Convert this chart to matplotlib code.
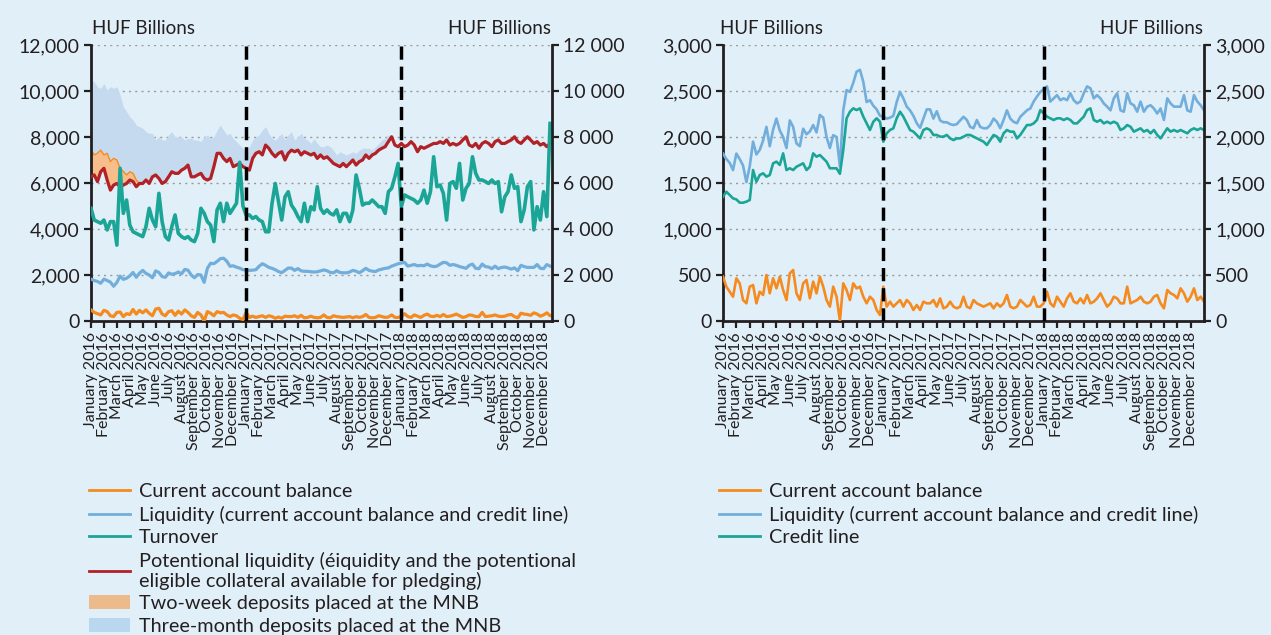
import numpy as np
import matplotlib
matplotlib.use('Agg')
import matplotlib.pyplot as plt
from matplotlib.lines import Line2D
from matplotlib.patches import Patch
from matplotlib.ticker import FuncFormatter, MultipleLocator

plt.rcParams['font.family'] = ['Lato', 'DejaVu Sans']

# month tick labels (one per month, Jan 2016 - Dec 2018)
month_names = ['January', 'February', 'March', 'April', 'May', 'June', 'July',
               'August', 'September', 'October', 'November', 'December']
years = [2016, 2017, 2018]

# series, ~4 readings per month (HUF billions)
current_account = [
    482, 373, 319, 264, 464, 409, 228, 192, 373, 391, 192, 319, 283, 500, 301, 464,
    355, 482, 337, 228, 518, 554, 301, 228, 409, 446, 246, 428, 301, 482, 373, 228,
    156, 373, 264, 0, 409, 337, 228, 409, 355, 373, 264, 192, 264, 228, 120, 65,
    373, 156, 210, 156, 192, 228, 156, 228, 192, 120, 174, 120, 210, 192, 192, 228,
    156, 246, 138, 156, 210, 156, 138, 156,
    264, 156, 138, 228, 192, 174, 156, 174, 192, 138, 192, 156, 192, 283, 156, 138,
    156, 228, 192, 156, 174, 264, 156, 156, 192, 319, 192, 156, 264, 210, 156, 246,
    301, 210, 192, 246, 192, 283, 192, 210, 246, 301, 228, 156, 192, 264, 246, 192,
    192, 373, 192, 210, 228, 264, 210, 192, 210, 264, 283, 192, 138, 337, 301, 283,
    246, 355, 301, 210, 264, 355, 228, 264, 210]

liquidity = [
    1820, 1760, 1720, 1640, 1820, 1760, 1690, 1510, 1680, 1950, 1810, 1860, 1960, 2110,
    1900, 2080, 2200, 2070, 2000, 1880, 2180, 2110, 1930, 1900, 2090, 2030, 2060, 2130,
    2050, 2240, 2210, 2000, 1880, 2020, 2000, 1680, 2290, 2510, 2490, 2590, 2710, 2730,
    2600, 2380, 2400, 2340, 2300, 2230,
    2220, 2200, 2210, 2230, 2380, 2490, 2420, 2330, 2290, 2230, 2150, 2100, 2200, 2300,
    2300, 2200, 2280, 2180, 2160, 2160, 2140, 2130, 2140, 2180,
    2220, 2185, 2110, 2095, 2185, 2110, 2095, 2095, 2130, 2200, 2165, 2095, 2185, 2290,
    2200, 2165, 2150, 2220, 2255, 2290, 2310, 2385, 2440, 2490,
    2520, 2550, 2385, 2420, 2455, 2400, 2420, 2400, 2475, 2400, 2365, 2385, 2475, 2550,
    2530, 2420, 2455, 2420, 2365, 2330, 2290, 2420, 2475, 2290, 2275, 2475, 2365, 2345,
    2275, 2385, 2275, 2330, 2345, 2310, 2255, 2310, 2185, 2420, 2365, 2330, 2330, 2330,
    2455, 2290, 2275, 2455, 2385, 2345, 2290]

credit_line = [
    1350, 1405, 1370, 1333, 1322, 1286, 1286, 1297, 1315, 1641, 1514, 1587, 1605, 1569,
    1587, 1714, 1732, 1696, 1822, 1641, 1660, 1641, 1677, 1696, 1714, 1641, 1677, 1822,
    1786, 1804, 1768, 1732, 1660, 1660, 1660, 1600, 1859, 2203, 2275, 2311, 2293, 2311,
    2221, 2148, 2076, 2166, 2203, 2166,
    1949, 2040, 2076, 2094, 2203, 2275, 2221, 2148, 2076, 2058, 2022, 1985, 2076, 2094,
    2076, 2022, 2022, 2004, 2004, 2022, 1985, 1967, 1985, 1985,
    2004, 2022, 2022, 2004, 1985, 1967, 1949, 1913, 1967, 2022, 2004, 1949, 2040, 2076,
    2058, 2058, 1985, 2022, 2076, 2130, 2130, 2148, 2185, 2293,
    2257, 2221, 2203, 2185, 2203, 2203, 2185, 2203, 2185, 2148, 2148, 2185, 2221, 2293,
    2311, 2185, 2166, 2185, 2148, 2166, 2148, 2166, 2148, 2076, 2094, 2130, 2112, 2058,
    2076, 2094, 2058, 2076, 2040, 2076, 2022, 1985, 2040, 2094, 2058, 2076, 2058, 2076,
    2058, 2040, 2076, 2094, 2076, 2094, 2076]

turnover = [
    4900, 4390, 4320, 4250, 4390, 3960, 4320, 4320, 3300, 6640, 4680, 5260, 4170, 3880,
    3810, 3740, 3670, 4100, 4900, 4390, 4100, 5550, 4320, 3670, 3520, 4100, 4610, 3810,
    3670, 3590, 3670, 3520, 3450, 3810, 4900, 4680, 4320, 4170, 3450, 4830, 5120, 4320,
    5120, 4680, 4900, 5120, 6900, 5000,
    4600, 4610, 4460, 4540, 4390, 4320, 3880, 3880, 5120, 5980, 5190, 4390, 5400, 5620,
    5040, 4830, 4540, 4320, 5120, 4320, 4970, 4830, 5840, 4900,
    4680, 4830, 4680, 4610, 4830, 4320, 4680, 4680, 4320, 4830, 6350, 5770, 5040, 5120,
    5120, 5260, 5120, 4970, 4970, 4680, 5620, 5770, 6270, 6850,
    4970, 5480, 5400, 5330, 5260, 5120, 5260, 5690, 5120, 5620, 7140, 5840, 5910, 5550,
    4390, 5980, 6060, 5770, 6850, 5260, 5770, 5980, 7140, 6420, 6130, 6130, 6060, 5980,
    6130, 5980, 6060, 4750, 5400, 5620, 6350, 5770, 5840, 4320, 4830, 5840, 6060, 3960,
    4970, 4390, 5620, 4540, 8590]

potential_liquidity = [
    6270, 6350, 6060, 6490, 6640, 6130, 5690, 5910, 5980, 5840, 5910, 5980, 6130, 6060,
    5840, 5980, 5980, 6130, 5980, 6270, 6350, 6200, 5980, 6060, 6270, 6490, 6420, 6420,
    6560, 6640, 6780, 6270, 6270, 6350, 6420, 6200, 6130, 6200, 6710, 7290, 7290, 7070,
    6930, 7070, 6710, 6780, 6850, 6710,
    6640, 6560, 7070, 7290, 7360, 7220, 7650, 7510, 7290, 7140, 7290, 7360, 7000, 7290,
    7430, 7360, 7430, 7220, 7360, 7290, 7220, 7290, 7070, 7220,
    7070, 7140, 7000, 6850, 6780, 6710, 6850, 6710, 6850, 7000, 6780, 6930, 7000, 7220,
    7070, 7220, 7290, 7430, 7510, 7580, 7800, 8010, 7650, 7580,
    7720, 7580, 7650, 7800, 7650, 7360, 7580, 7510, 7580, 7650, 7720, 7720, 7800, 7720,
    7870, 7650, 7720, 7650, 7720, 7870, 8010, 7650, 7580, 7720, 7510, 7720, 7800, 7720,
    7580, 7800, 7870, 7720, 7720, 7800, 7870, 8010, 7800, 7720, 7870, 8010, 7870, 7720,
    7800, 7650, 7720, 7580, 7720]

two_week_deposits = [1160, 870, 1230, 940, 580, 1160, 1240, 1160, 1020, 800, 590, 370,
                     360, 360, 290, 0]

three_month_deposits = [
    3050, 3180, 2900, 2680, 3110, 2750, 3260, 3040, 3190, 3180, 2820, 2750, 2390, 2320,
    2390, 2470, 2400, 2100, 2180, 1890, 1520, 1810, 1890, 1810, 1820, 1740, 1590, 1590,
    1450, 1230, 1160, 1670, 1600, 1520, 1380, 1810, 1960, 1740, 1300, 1010, 1230, 1230,
    1160, 1090, 1230, 1020, 800, 800, 720, 1020, 800, 720, 730, 1080, 800, 650, 650, 730,
    720, 800, 870, 800, 800, 510, 580, 940, 580, 580, 500, 650, 650, 360, 510, 510, 580,
    580, 440, 650, 440, 510, 440, 360, 510, 500, 510, 290, 440, 210, 290, 290, 360, 360,
    290, 80, 0]

labels = [f'{m} {y}' for y in years for m in month_names]

C_CUR = '#F58A1F'
C_LIQ = '#72AEDB'
C_TURN = '#1BA596'
C_POT = '#B22126'
C_TWO = '#F7BE8C'
C_THREE = '#C5DAEF'
BG = '#E1EFF8'
TXT = '#231F20'

W, H = 1271, 635
fig = plt.figure(figsize=(W / 100, H / 100), dpi=100, facecolor=BG)

# x in months from January 2016 (4 readings per month)
x = np.arange(len(liquidity)) / 4
xt = np.arange(len(turnover)) / 4


def style_axes(ax, ymax, step, xmax, fmt_left, fmt_right):
    ax.set_facecolor('none')
    ax.set_xlim(0, xmax)
    ax.set_ylim(0, ymax)
    ax.yaxis.set_major_locator(MultipleLocator(step))
    ax.yaxis.set_major_formatter(FuncFormatter(fmt_left))
    ax.yaxis.grid(True, linestyle=(0, (1.5, 3)), color='#9A9A9A', linewidth=1)
    ax.set_axisbelow(True)
    ax.set_xticks(np.arange(36))
    ax.set_xticklabels(labels, rotation=90, fontsize=11.5, color=TXT, va='top', ha='center')
    ax.tick_params(axis='x', direction='out', length=5, width=1.6, color=TXT, pad=3)
    ax.tick_params(axis='y', direction='out', length=5, width=1.6, color=TXT,
                   labelsize=14, labelcolor=TXT, pad=3)
    for s in ['top', 'right']:
        ax.spines[s].set_visible(False)
    for s in ['left', 'bottom']:
        ax.spines[s].set_linewidth(2)
        ax.spines[s].set_color(TXT)
    for xv in (12, 24):
        ax.axvline(xv, color='black', lw=2.5, linestyle=(0, (3.8, 2)), zorder=5)
    tw = ax.twinx()
    tw.set_ylim(0, ymax)
    tw.yaxis.set_major_locator(MultipleLocator(step))
    tw.yaxis.set_major_formatter(FuncFormatter(fmt_right))
    tw.tick_params(axis='y', direction='out', length=5, width=1.6, color=TXT,
                   labelsize=14, labelcolor=TXT, pad=3)
    for s in ['top', 'left', 'bottom']:
        tw.spines[s].set_visible(False)
    tw.spines['right'].set_linewidth(2)
    tw.spines['right'].set_color(TXT)
    return tw


comma = lambda v, p: f'{int(v):,}'
space = lambda v, p: f'{int(v):,}'.replace(',', ' ')

# left panel
ax1 = fig.add_axes([91 / W, 1 - 321 / H, 461 / W, 276 / H])
n2 = len(two_week_deposits)
n3 = len(three_month_deposits)
pot = np.array(potential_liquidity)
two_top = pot[:n2] + np.array(two_week_deposits)
base3 = pot[:n3].copy()
base3[:n2] = two_top
ax1.fill_between(x[:n3], base3, base3 + np.array(three_month_deposits),
                 color=C_THREE, lw=0, zorder=1)
ax1.fill_between(x[:n2], pot[:n2], two_top, color=C_TWO, lw=0, zorder=1)
ax1.plot(x[:n2], two_top, color=C_CUR, lw=1, zorder=2)
ax1.plot(x, current_account, color=C_CUR, lw=2.3, zorder=3)
ax1.plot(x, liquidity, color=C_LIQ, lw=2.3, zorder=3)
ax1.plot(xt, potential_liquidity, color=C_POT, lw=2.3, zorder=3)
ax1.plot(xt, turnover, color=C_TURN, lw=2.6, zorder=4)
style_axes(ax1, 12000, 2000, 35.65, comma, space)

# right panel
ax2 = fig.add_axes([723 / W, 1 - 321 / H, 481 / W, 276 / H])
ax2.plot(x, current_account, color=C_CUR, lw=1.9, zorder=3)
ax2.plot(x, liquidity, color=C_LIQ, lw=1.9, zorder=3)
ax2.plot(x, credit_line, color=C_TURN, lw=1.9, zorder=3)
style_axes(ax2, 3000, 500, 36, comma, comma)

for xp, ha in [(92, 'left'), (551, 'right'), (720, 'left'), (1203, 'right')]:
    fig.text(xp / W, 1 - 28 / H, 'HUF Billions', ha=ha, va='center',
             fontsize=13.5, color=TXT)

leg_kw = dict(loc='upper left', frameon=False, fontsize=14.3, handlelength=2.05,
              handletextpad=0.45, labelspacing=0.28, borderpad=0, borderaxespad=0,
              labelcolor=TXT)
h1 = [Line2D([], [], color=C_CUR, lw=2),
      Line2D([], [], color=C_LIQ, lw=2),
      Line2D([], [], color=C_TURN, lw=2),
      Line2D([], [], color=C_POT, lw=2),
      Patch(facecolor='#EDBA8B', edgecolor='none'),
      Patch(facecolor='#B9D7EE', edgecolor='none')]
l1 = ['Current account balance',
      'Liquidity (current account balance and credit line)',
      'Turnover',
      'Potentional liquidity (éiquidity and the potentional\n'
      'eligible collateral available for pledging)',
      'Two-week deposits placed at the MNB',
      'Three-month deposits placed at the MNB']
leg1 = fig.legend(h1, l1, bbox_to_anchor=(89 / W, 1 - 483 / H), **leg_kw)
for t in leg1.get_texts():
    t.set_linespacing(1.12)
h2 = h1[:3]
l2 = ['Current account balance',
      'Liquidity (current account balance and credit line)',
      'Credit line']
fig.legend(h2, l2, bbox_to_anchor=(719 / W, 1 - 483 / H), **leg_kw)

fig.savefig('out.png', dpi=100, facecolor=BG)
